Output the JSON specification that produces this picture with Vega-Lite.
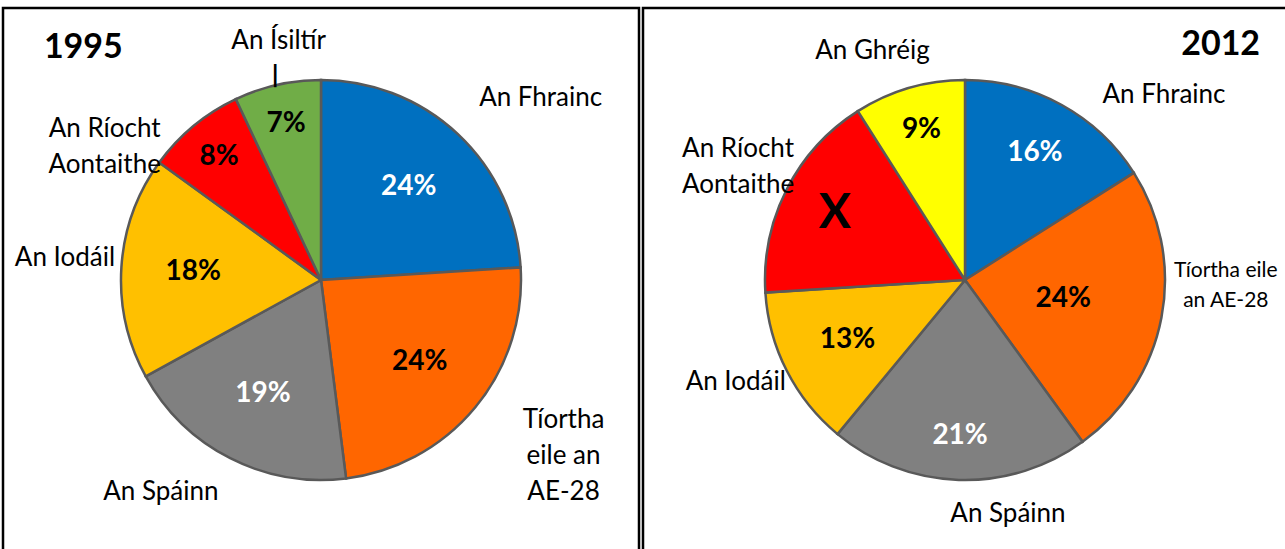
{
  "$schema": "https://vega.github.io/schema/vega-lite/v6.json",
  "padding": {"left": 1, "top": 6, "right": 0, "bottom": 0},
  "spacing": 0,
  "background": "white",
  "config": {
    "font": "Lato",
    "text": {"clip": true}
  },
  "datasets": {
    "pies": [
      {"year": 1995, "country": "An Fhrainc", "value": 24, "ord": 1, "label": "24%", "outer": "An Fhrainc"},
      {"year": 1995, "country": "Tíortha eile an AE-28", "value": 24, "ord": 2, "label": "24%", "outer": "Tíortha\neile an\nAE-28"},
      {"year": 1995, "country": "An Spáinn", "value": 19, "ord": 3, "label": "19%", "outer": "An Spáinn"},
      {"year": 1995, "country": "An Iodáil", "value": 18, "ord": 4, "label": "18%", "outer": "An Iodáil"},
      {"year": 1995, "country": "An Ríocht Aontaithe", "value": 8, "ord": 5, "label": "8%", "outer": "An Ríocht\nAontaithe"},
      {"year": 1995, "country": "An Ísiltír", "value": 7, "ord": 6, "label": "7%", "outer": "An Ísiltír"},
      {"year": 2012, "country": "An Fhrainc", "value": 16, "ord": 1, "label": "16%", "outer": "An Fhrainc"},
      {"year": 2012, "country": "Tíortha eile an AE-28", "value": 24, "ord": 2, "label": "24%", "outer": "Tíortha eile\nan AE-28"},
      {"year": 2012, "country": "An Spáinn", "value": 21, "ord": 3, "label": "21%", "outer": "An Spáinn"},
      {"year": 2012, "country": "An Iodáil", "value": 13, "ord": 4, "label": "13%", "outer": "An Iodáil"},
      {"year": 2012, "country": "An Ríocht Aontaithe", "value": 17, "ord": 5, "label": "X", "outer": "An Ríocht\nAontaithe"},
      {"year": 2012, "country": "An Ghréig", "value": 9, "ord": 6, "label": "9%", "outer": "An Ghréig"}
    ]
  },
  "hconcat": [
    {
      "width": 636,
      "height": 544,
      "view": {"stroke": "black", "strokeWidth": 2.5, "fill": "white"},
      "data": {"name": "pies"},
      "transform": [{"filter": "datum.year == 1995"}],
      "encoding": {
        "theta": {"field": "value", "type": "quantitative", "stack": true},
        "order": {"field": "ord", "type": "quantitative"}
      },
      "layer": [
        {
          "mark": {"type": "arc", "outerRadius": 200, "stroke": "#595959", "strokeWidth": 2.5},
          "encoding": {
            "color": {"field": "country", "type": "nominal", "legend": null,
              "scale": {"domain": ["An Fhrainc", "Tíortha eile an AE-28", "An Spáinn", "An Iodáil", "An Ríocht Aontaithe", "An Ísiltír", "An Ghréig"],
                        "range": ["#0070C0", "#FF6600", "#808080", "#FFC000", "#FF0000", "#70AD47", "#FFFF00"]}}
          }
        },
        {
          "mark": {"type": "text", "clip": true, "radius": 332, "thetaOffset": -0.578, "font": "Lato", "fontSize": 34, "fontWeight": "bold"},
          "encoding": {"text": {"condition": {"test": "datum.country == 'An Ísiltír'", "field": "year", "type": "nominal"}, "value": ""}, "color": {"value": "black"}}
        },
        {
          "mark": {"type": "text", "clip": true, "radius": 128, "font": "Lato", "fontSize": 28, "fontWeight": "bold"},
          "encoding": {
            "text": {"condition": {"test": "indexof(['An Fhrainc','Tíortha eile an AE-28','An Spáinn','An Iodáil'], datum.country) >= 0", "field": "label", "type": "nominal"}, "value": ""},
            "color": {"condition": {"test": "datum.country == 'An Fhrainc' || datum.country == 'An Spáinn'", "value": "white"}, "value": "black"}
          }
        },
        {
          "mark": {"type": "text", "clip": true, "radius": 160, "font": "Lato", "fontSize": 28, "fontWeight": "bold"},
          "encoding": {
            "text": {"condition": {"test": "indexof(['An Ríocht Aontaithe','An Ísiltír'], datum.country) >= 0", "field": "label", "type": "nominal"}, "value": ""},
            "color": {"value": "black"}
          }
        },
        {
          "mark": {"type": "text", "clip": true, "radius": 285, "thetaOffset": 0.126, "font": "Lato", "fontSize": 26, "lineBreak": "\n", "lineHeight": 36},
          "encoding": {"text": {"condition": {"test": "datum.country == 'An Fhrainc'", "field": "outer", "type": "nominal"}, "value": ""}, "color": {"value": "black"}}
        },
        {
          "mark": {"type": "text", "clip": true, "radius": 280, "thetaOffset": -0.168, "font": "Lato", "fontSize": 26, "lineBreak": "\n", "lineHeight": 36},
          "encoding": {"text": {"condition": {"test": "datum.country == 'Tíortha eile an AE-28'", "field": "outer", "type": "nominal"}, "value": ""}, "color": {"value": "black"}}
        },
        {
          "mark": {"type": "text", "clip": true, "radius": 266, "thetaOffset": 0.175, "font": "Lato", "fontSize": 26, "lineBreak": "\n", "lineHeight": 36},
          "encoding": {"text": {"condition": {"test": "datum.country == 'An Spáinn'", "field": "outer", "type": "nominal"}, "value": ""}, "color": {"value": "black"}}
        },
        {
          "mark": {"type": "text", "clip": true, "radius": 257, "thetaOffset": 0.024, "font": "Lato", "fontSize": 26, "lineBreak": "\n", "lineHeight": 36},
          "encoding": {"text": {"condition": {"test": "datum.country == 'An Iodáil'", "field": "outer", "type": "nominal"}, "value": ""}, "color": {"value": "black"}}
        },
        {
          "mark": {"type": "text", "clip": true, "radius": 264, "thetaOffset": -0.269, "font": "Lato", "fontSize": 26, "lineBreak": "\n", "lineHeight": 36},
          "encoding": {"text": {"condition": {"test": "datum.country == 'An Ríocht Aontaithe'", "field": "outer", "type": "nominal"}, "value": ""}, "color": {"value": "black"}}
        },
        {
          "mark": {"type": "text", "clip": true, "radius": 243, "thetaOffset": 0.045, "font": "Lato", "fontSize": 26, "lineBreak": "\n", "lineHeight": 36},
          "encoding": {"text": {"condition": {"test": "datum.country == 'An Ísiltír'", "field": "outer", "type": "nominal"}, "value": ""}, "color": {"value": "black"}}
        },
        {
          "mark": {"type": "text", "clip": true, "radius": 210, "font": "DejaVu Sans", "fontSize": 23, "fontWeight": "bold"},
          "encoding": {"text": {"condition": {"test": "datum.country == 'An Ísiltír'", "value": "|"}, "value": ""}, "color": {"value": "black"}}
        }
      ]
    },
    {
      "width": 644,
      "height": 544,
      "view": {"stroke": "black", "strokeWidth": 2.5, "fill": "white"},
      "data": {"name": "pies"},
      "transform": [{"filter": "datum.year == 2012"}],
      "encoding": {
        "theta": {"field": "value", "type": "quantitative", "stack": true},
        "order": {"field": "ord", "type": "quantitative"}
      },
      "layer": [
        {
          "mark": {"type": "arc", "outerRadius": 200, "stroke": "#595959", "strokeWidth": 2.5},
          "encoding": {
            "color": {"field": "country", "type": "nominal", "legend": null,
              "scale": {"domain": ["An Fhrainc", "Tíortha eile an AE-28", "An Spáinn", "An Iodáil", "An Ríocht Aontaithe", "An Ísiltír", "An Ghréig"],
                        "range": ["#0070C0", "#FF6600", "#808080", "#FFC000", "#FF0000", "#70AD47", "#FFFF00"]}}
          }
        },
        {
          "mark": {"type": "text", "clip": true, "radius": 347, "thetaOffset": 0.3255, "font": "Lato", "fontSize": 34, "fontWeight": "bold"},
          "encoding": {"text": {"condition": {"test": "datum.country == 'An Fhrainc'", "field": "year", "type": "nominal"}, "value": ""}, "color": {"value": "black"}}
        },
        {
          "mark": {"type": "text", "clip": true, "radius": 100, "font": "Lato", "fontSize": 28, "fontWeight": "bold"},
          "encoding": {
            "text": {"condition": {"test": "datum.country == 'Tíortha eile an AE-28'", "field": "label", "type": "nominal"}, "value": ""},
            "color": {"value": "black"}
          }
        },
        {
          "mark": {"type": "text", "clip": true, "radius": 132, "font": "Lato", "fontSize": 28, "fontWeight": "bold"},
          "encoding": {
            "text": {"condition": {"test": "datum.country == 'An Iodáil'", "field": "label", "type": "nominal"}, "value": ""},
            "color": {"value": "black"}
          }
        },
        {
          "mark": {"type": "text", "clip": true, "radius": 145, "font": "Lato", "fontSize": 28, "fontWeight": "bold"},
          "encoding": {
            "text": {"condition": {"test": "datum.country == 'An Fhrainc'", "field": "label", "type": "nominal"}, "value": ""},
            "color": {"value": "white"}
          }
        },
        {
          "mark": {"type": "text", "clip": true, "radius": 146, "font": "Lato", "fontSize": 48, "fontWeight": "bold"},
          "encoding": {
            "text": {"condition": {"test": "datum.country == 'An Ríocht Aontaithe'", "field": "label", "type": "nominal"}, "value": ""},
            "color": {"value": "black"}
          }
        },
        {
          "mark": {"type": "text", "clip": true, "radius": 156, "font": "Lato", "fontSize": 28, "fontWeight": "bold"},
          "encoding": {
            "text": {"condition": {"test": "datum.country == 'An Spáinn' || datum.country == 'An Ghréig'", "field": "label", "type": "nominal"}, "value": ""},
            "color": {"condition": {"test": "datum.country == 'An Spáinn'", "value": "white"}, "value": "black"}
          }
        },
        {
          "mark": {"type": "text", "clip": true, "radius": 272, "thetaOffset": 0.318, "font": "Lato", "fontSize": 26, "lineBreak": "\n", "lineHeight": 36},
          "encoding": {"text": {"condition": {"test": "datum.country == 'An Fhrainc'", "field": "outer", "type": "nominal"}, "value": ""}, "color": {"value": "black"}}
        },
        {
          "mark": {"type": "text", "clip": true, "radius": 261, "thetaOffset": -0.223, "font": "Lato", "fontSize": 21, "lineBreak": "\n", "lineHeight": 30},
          "encoding": {"text": {"condition": {"test": "datum.country == 'Tíortha eile an AE-28'", "field": "outer", "type": "nominal"}, "value": ""}, "color": {"value": "black"}}
        },
        {
          "mark": {"type": "text", "clip": true, "radius": 238, "thetaOffset": -0.213, "font": "Lato", "fontSize": 26, "lineBreak": "\n", "lineHeight": 36},
          "encoding": {"text": {"condition": {"test": "datum.country == 'An Spáinn'", "field": "outer", "type": "nominal"}, "value": ""}, "color": {"value": "black"}}
        },
        {
          "mark": {"type": "text", "clip": true, "radius": 251, "thetaOffset": 0.052, "font": "Lato", "fontSize": 26, "lineBreak": "\n", "lineHeight": 36},
          "encoding": {"text": {"condition": {"test": "datum.country == 'An Iodáil'", "field": "outer", "type": "nominal"}, "value": ""}, "color": {"value": "black"}}
        },
        {
          "mark": {"type": "text", "clip": true, "radius": 262, "thetaOffset": 0.052, "font": "Lato", "fontSize": 26, "lineBreak": "\n", "lineHeight": 36},
          "encoding": {"text": {"condition": {"test": "datum.country == 'An Ríocht Aontaithe'", "field": "outer", "type": "nominal"}, "value": ""}, "color": {"value": "black"}}
        },
        {
          "mark": {"type": "text", "clip": true, "radius": 247, "thetaOffset": -0.101, "font": "Lato", "fontSize": 26, "lineBreak": "\n", "lineHeight": 36},
          "encoding": {"text": {"condition": {"test": "datum.country == 'An Ghréig'", "field": "outer", "type": "nominal"}, "value": ""}, "color": {"value": "black"}}
        }
      ]
    }
  ]
}
